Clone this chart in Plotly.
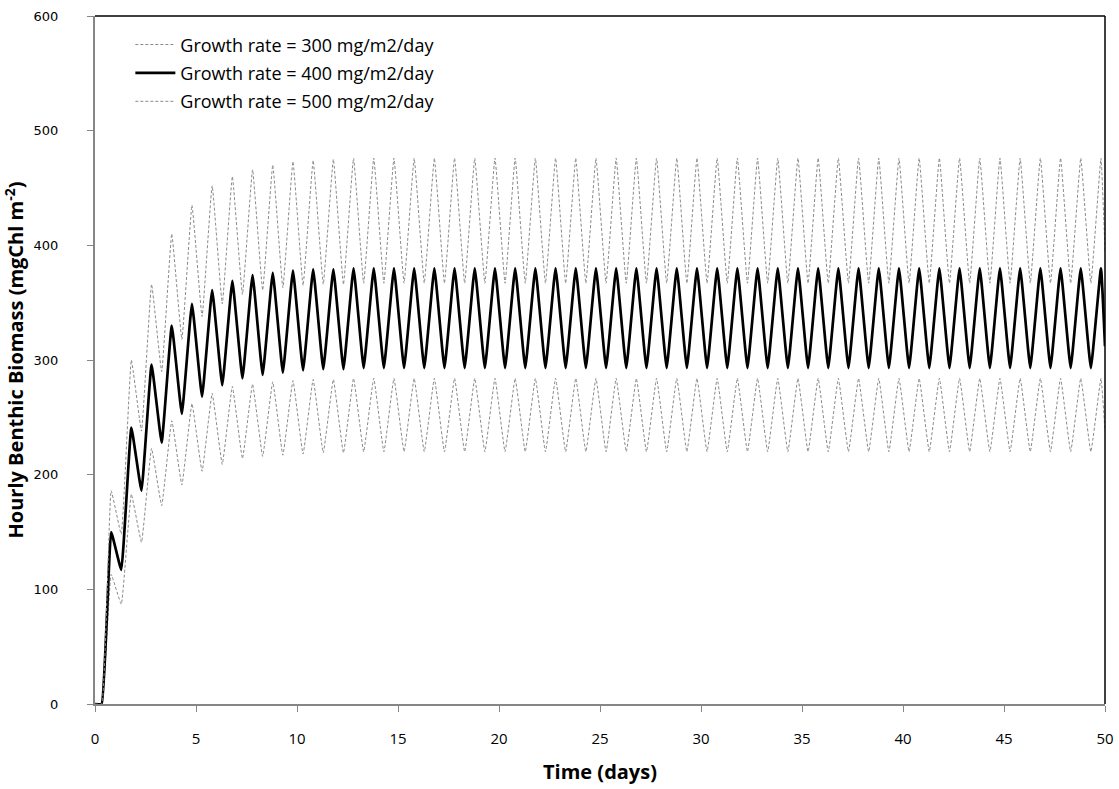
import plotly.graph_objects as go

# ---- data (days, mgChl m-2) ----
start_t = [0.0, 0.33]
start_v = [0, 0]

peak_t = [0.8, 1.8, 2.8, 3.8, 4.8, 5.8, 6.8, 7.8, 8.8, 9.8,
          10.8, 11.8, 12.8, 13.8, 14.8, 15.8, 16.8, 17.8, 18.8, 19.8,
          20.8, 21.8, 22.8, 23.8, 24.8, 25.8, 26.8, 27.8, 28.8, 29.8,
          30.8, 31.8, 32.8, 33.8, 34.8, 35.8, 36.8, 37.8, 38.8, 39.8,
          40.8, 41.8, 42.8, 43.8, 44.8, 45.8, 46.8, 47.8, 48.8, 49.8]
trough_t = [1.3, 2.3, 3.3, 4.3, 5.3, 6.3, 7.3, 8.3, 9.3, 10.3,
            11.3, 12.3, 13.3, 14.3, 15.3, 16.3, 17.3, 18.3, 19.3, 20.3,
            21.3, 22.3, 23.3, 24.3, 25.3, 26.3, 27.3, 28.3, 29.3, 30.3,
            31.3, 32.3, 33.3, 34.3, 35.3, 36.3, 37.3, 38.3, 39.3, 40.3,
            41.3, 42.3, 43.3, 44.3, 45.3, 46.3, 47.3, 48.3, 49.3]
end_t = 50.0

# Growth rate = 300 mg/m2/day
g300_peaks = [113, 183, 223, 247, 262, 271, 277, 279, 281, 282,
              283, 283, 284, 284, 284, 284, 284, 284, 284, 284,
              284, 284, 284, 284, 284, 284, 284, 284, 284, 284,
              284, 284, 284, 284, 284, 284, 284, 284, 284, 284,
              284, 284, 284, 284, 284, 284, 284, 284, 284, 284]
g300_troughs = [87, 141, 173, 191, 203, 209, 214, 216, 217, 218,
                219, 219, 220, 220, 220, 220, 220, 220, 220, 220,
                220, 220, 220, 220, 220, 220, 220, 220, 220, 220,
                220, 220, 220, 220, 220, 220, 220, 220, 220, 220,
                220, 220, 220, 220, 220, 220, 220, 220, 220]
g300_end = 238

# Growth rate = 400 mg/m2/day
g400_peaks = [150, 241, 296, 330, 349, 361, 369, 374, 376, 378,
              379, 379, 380, 380, 380, 380, 380, 380, 380, 380,
              380, 380, 380, 380, 380, 380, 380, 380, 380, 380,
              380, 380, 380, 380, 380, 380, 380, 380, 380, 380,
              380, 380, 380, 380, 380, 380, 380, 380, 380, 380]
g400_troughs = [117, 186, 228, 253, 268, 278, 284, 287, 289, 291,
                292, 292, 293, 293, 293, 293, 293, 293, 293, 293,
                293, 293, 293, 293, 293, 293, 293, 293, 293, 293,
                293, 293, 293, 293, 293, 293, 293, 293, 293, 293,
                293, 293, 293, 293, 293, 293, 293, 293, 293]
g400_end = 312

# Growth rate = 500 mg/m2/day
g500_peaks = [186, 300, 366, 410, 435, 452, 460, 466, 470, 473,
              474, 475, 476, 476, 476, 476, 476, 476, 476, 476,
              476, 476, 476, 476, 476, 476, 476, 476, 476, 476,
              476, 476, 476, 476, 476, 476, 476, 476, 476, 476,
              476, 476, 476, 476, 476, 476, 476, 476, 476, 476]
g500_troughs = [148, 238, 290, 318, 338, 349, 357, 361, 363, 365,
                366, 366, 367, 367, 367, 367, 367, 367, 367, 367,
                367, 367, 367, 367, 367, 367, 367, 367, 367, 367,
                367, 367, 367, 367, 367, 367, 367, 367, 367, 367,
                367, 367, 367, 367, 367, 367, 367, 367, 367]
g500_end = 395

x_ticks = [0, 5, 10, 15, 20, 25, 30, 35, 40, 45, 50]
y_ticks = [0, 100, 200, 300, 400, 500, 600]

series_names = ["Growth rate = 300 mg/m2/day",
                "Growth rate = 400 mg/m2/day",
                "Growth rate = 500 mg/m2/day"]


def build(peaks, troughs, end_v):
    t = list(start_t)
    v = list(start_v)
    for i in range(len(peak_t)):
        t.append(peak_t[i]); v.append(peaks[i])
        if i < len(trough_t):
            t.append(trough_t[i]); v.append(troughs[i])
    t.append(end_t); v.append(end_v)
    return t, v


FONT = "Open Sans, Lato, sans-serif"

fig = go.Figure()
gray_dash = dict(color="#8a8a8a", width=1, dash="3px,2px", shape="spline", smoothing=0.3)
for name, pk, tr, ev, style in [
        (series_names[0], g300_peaks, g300_troughs, g300_end, gray_dash),
        (series_names[1], g400_peaks, g400_troughs, g400_end,
         dict(color="#000000", width=2.7, shape="spline", smoothing=0.3)),
        (series_names[2], g500_peaks, g500_troughs, g500_end, gray_dash)]:
    t, v = build(pk, tr, ev)
    fig.add_trace(go.Scatter(x=t, y=v, mode="lines", name=name, line=style,
                             legendgroup=name))

fig.update_layout(
    width=1119, height=789,
    margin=dict(l=95, r=14, t=16, b=85, autoexpand=False),
    paper_bgcolor="white", plot_bgcolor="white",
    showlegend=True,
    legend=dict(x=0.035, y=0.985, xanchor="left", yanchor="top",
                bgcolor="rgba(0,0,0,0)", itemwidth=40,
                traceorder="grouped", tracegroupgap=2,
                font=dict(family=FONT, size=18, color="#000")),
    shapes=[
        dict(type="line", xref="paper", yref="paper", x0=0, x1=1, y0=1, y1=1,
             line=dict(color="#000", width=1.5)),
        dict(type="line", xref="paper", yref="paper", x0=1, x1=1, y0=0, y1=1,
             line=dict(color="#000", width=1.5)),
    ],
)
fig.update_xaxes(range=[0, 50], tickmode="array", tickvals=x_ticks,
                 showgrid=False, zeroline=False, showline=True,
                 linecolor="#868686", linewidth=2, ticks="outside", ticklen=6,
                 tickcolor="#868686", tickwidth=1,
                 tickfont=dict(family=FONT, size=15, color="#000"),
                 ticklabelstandoff=14,
                 title=dict(text="<b>Time (days)</b>", standoff=18,
                            font=dict(family=FONT, size=20, color="#000")))
fig.update_yaxes(range=[0, 600], tickmode="array", tickvals=y_ticks,
                 showgrid=False, zeroline=False, showline=True,
                 linecolor="#868686", linewidth=2, ticks="outside", ticklen=6,
                 tickcolor="#868686", tickwidth=1,
                 tickfont=dict(family="DejaVu Sans, Verdana, sans-serif", size=13, color="#000"),
                 ticklabelstandoff=26,
                 title=dict(text="<b>Hourly Benthic Biomass (mgChl m<sup>-2</sup>)</b>", standoff=5,
                            font=dict(family=FONT, size=20, color="#000")))

fig.write_html("out.html", config={"displayModeBar": False},
               post_script="document.body.style.margin='0';")
